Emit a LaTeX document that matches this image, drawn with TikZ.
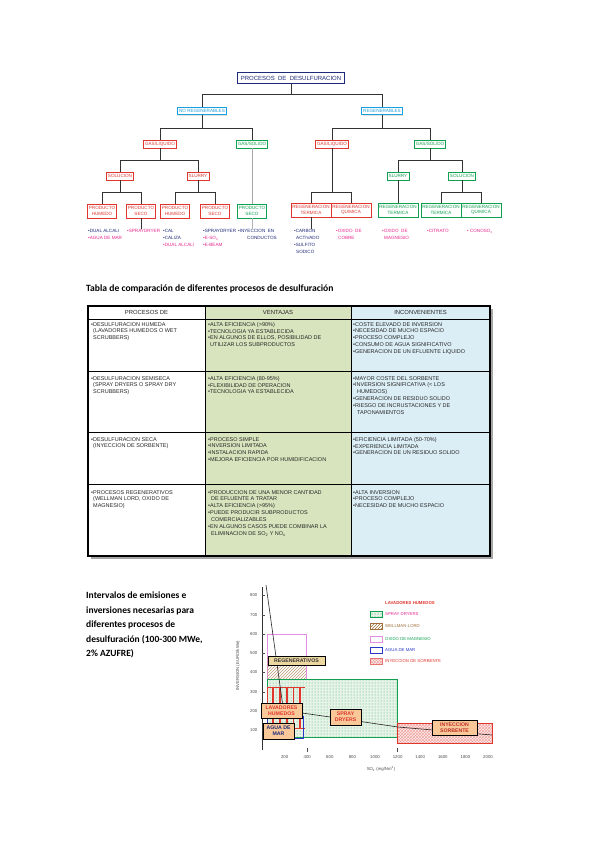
\documentclass[tikz,border=0pt]{standalone}
\usepackage{fontspec}
\setmainfont{Liberation Sans}
\newfontfamily\calfont{Carlito}
\usetikzlibrary{patterns,shadows}
\definecolor{navy}{HTML}{1F2A7A}
\definecolor{bred}{HTML}{E0362E}
\definecolor{bgreen}{HTML}{10A050}
\definecolor{bcyan}{HTML}{1AA0DC}
\definecolor{mag}{HTML}{E6268C}
\definecolor{tgreen}{HTML}{D7E4BD}
\definecolor{tblue}{HTML}{DCEEF5}
\definecolor{lblfill}{HTML}{F9C899}
\definecolor{regfill}{HTML}{EDD7A1}
\definecolor{cbrown}{HTML}{A0703C}
\definecolor{pinkl}{HTML}{E58CE5}
\definecolor{bblue}{HTML}{2838C8}
\definecolor{lgfill}{HTML}{E6F3E6}
\newcommand\ftree{\fontsize{4.6}{5.5}\selectfont}
\newcommand\fbul{\fontsize{4.6}{7}\selectfont}
\newcommand\ftab{\fontsize{5.5}{6.9}\selectfont}
\newcommand\fchart{\fontsize{4.3}{5.2}\selectfont}
\newcommand\flbl{\fontsize{5.2}{6}\selectfont}
\tikzset{
  tbox/.style={draw, fill=white, line width=0.5pt, inner xsep=1.5pt, inner ysep=0.8pt,
    font=\ftree, align=center, minimum height=7.5pt,
    drop shadow={shadow xshift=0.8pt, shadow yshift=-0.8pt, fill=black!22}},
  redbox/.style={tbox, draw=bred, text=bred},
  grnbox/.style={tbox, draw=bgreen, text=bgreen},
  cyanbox/.style={tbox, draw=bcyan, text=bcyan},
  leafbox/.style={minimum height=14pt},
  conn/.style={draw=black!80, line width=0.7pt},
  bul/.style={anchor=north west, font=\fbul, align=left, inner sep=0pt},
  cell/.style={anchor=north west, font=\ftab, align=left, inner sep=0pt, text=black!85},
  hdr/.style={font=\fontsize{5.9}{7}\selectfont, inner sep=0pt, text=black!85},
  lbl/.style={draw=black, line width=0.6pt, fill=lblfill, font=\flbl\bfseries, align=center,
    inner xsep=1pt, inner ysep=0.6pt},
  tick/.style={font=\fchart, text=black!70, inner sep=0pt},
  leg/.style={font=\fchart, anchor=west, inner sep=0pt},
}
\begin{document}
\begin{tikzpicture}[x=1pt,y=-1pt]
\useasboundingbox (0,0) rectangle (599,848);
\fill[white] (0,0) rectangle (599,848);

% ---------------- tree ----------------
\node[draw=navy, line width=0.8pt, text=navy, fill=white, font=\fontsize{6}{7}\selectfont,
  inner xsep=3pt, minimum height=11pt,
  drop shadow={shadow xshift=0.8pt, shadow yshift=-0.8pt, fill=black!25}] (top) at (291,78)
  {PROCESOS\ \ DE\ \ DESULFURACION};
\node[cyanbox] (nr) at (202,111) {NO REGENERABLES};
\node[cyanbox] (rg) at (382,111) {REGENERABLES};
\node[redbox] (gl1) at (160,144) {GAS/LIQUIDO};
\node[grnbox] (gs1) at (252,144) {GAS/SOLIDO};
\node[redbox] (gl2) at (332,144) {GAS/LIQUIDO};
\node[grnbox] (gs2) at (430,144) {GAS/SOLIDO};
\node[redbox] (sol1) at (120,176) {SOLUCION};
\node[redbox] (slu1) at (198,176) {SLURRY};
\node[grnbox] (slu2) at (398,176) {SLURRY};
\node[grnbox] (sol2) at (462,176) {SOLUCION};
\node[redbox, leafbox] (ph1) at (102,211) {PRODUCTO\\HUMEDO};
\node[redbox, leafbox] (ps1) at (141,211) {PRODUCTO\\SECO};
\node[redbox, leafbox] (ph2) at (175,211) {PRODUCTO\\HUMEDO};
\node[redbox, leafbox] (ps2) at (215,211) {PRODUCTO\\SECO};
\node[grnbox, leafbox] (ps3) at (252,211) {PRODUCTO\\SECO};
\node[redbox, leafbox] (rt1) at (311,210) {REGENERACION\\TERMICA};
\node[redbox, leafbox] (rq1) at (351,210) {REGENERACION\\QUIMICA};
\node[grnbox, leafbox] (rt2) at (398,210) {REGENERACION\\TERMICA};
\node[grnbox, leafbox] (rt3) at (441,210) {REGENERACION\\TERMICA};
\node[grnbox, leafbox] (rq2) at (481,210) {REGENERACION\\QUIMICA};

\draw[conn] (top.south) -- ++(0,10) -| (nr.north);
\draw[conn] (top.south) -- ++(0,10) -| (rg.north);
\draw[conn] (nr.south) -- ++(0,13) -| (gl1.north);
\draw[conn] (nr.south) -- ++(0,13) -| (gs1.north);
\draw[conn] (rg.south) -- ++(0,13) -| (gl2.north);
\draw[conn] (rg.south) -- ++(0,13) -| (gs2.north);
\draw[conn] (gl1.south) -- ++(0,12) -| (sol1.north);
\draw[conn] (gl1.south) -- ++(0,12) -| (slu1.north);
\draw[conn, draw=black!35] (gs1.south) -- (ps3.north);
\draw[conn] (gl2.south) -- ++(0,44) -| (rt1.north);
\draw[conn] (gl2.south) -- ++(0,44) -| (rq1.north);
\draw[conn] (gs2.south) -- ++(0,12) -| (slu2.north);
\draw[conn] (gs2.south) -- ++(0,12) -| (sol2.north);
\draw[conn] (sol1.south) -- ++(0,12.5) -| (ph1.north);
\draw[conn] (sol1.south) -- ++(0,12.5) -| (ps1.north);
\draw[conn] (slu1.south) -- ++(0,12.5) -| (ph2.north);
\draw[conn] (slu1.south) -- ++(0,12.5) -| (ps2.north);
\draw[conn] (slu2.south) -- (rt2.north);
\draw[conn] (sol2.south) -- ++(0,12.5) -| (rt3.north);
\draw[conn] (sol2.south) -- ++(0,12.5) -| (rq2.north);

\node[bul] (b1) at (88,229) {\textcolor{navy}{•DUAL ALCALI}\\\textcolor{mag}{•AGUA DE MAR}};
\node[bul, text=mag] (b2) at (127,229) {•SPRAYDRYER};
\node[bul] (b3) at (163,229) {\textcolor{navy}{•CAL}\\\textcolor{navy}{•CALIZA}\\\textcolor{mag}{•DUAL ALCALI}};
\node[bul] (b4) at (203,229) {\textcolor{navy}{•SPRAYDRYER}\\\textcolor{mag}{•E-SO\textsubscript{2}}\\\textcolor{mag}{•E-BEAM}};
\node[bul, text=navy] (b5) at (238,229) {•INYECCION\ \ EN\\\hspace*{9pt}CONDUCTOS};
\node[bul, text=navy] (b6) at (294,229) {•CARBON\\\hspace*{2pt}ACTIVADO\\•SULFITO\\\hspace*{2pt}SODICO};
\node[bul, text=mag] (b7) at (336,229) {•OXIDO\ \ DE\\\hspace*{2pt}COBRE};
\node[bul, text=mag] (b8) at (382,229) {•OXIDO\ \ DE\\\hspace*{2pt}MAGNESIO};
\node[bul, text=mag] (b9) at (427,229) {•CITRATO};
\node[bul, text=mag] (b10) at (467,229) {• CONOSO\textsubscript{x}};
\draw[conn] (ps1.south) -- (ps1.south |- b2.north);
\draw[conn] (rt1.south) -- (rt1.south |- b6.north);
\draw[conn, draw=black!30] (ps3.south) -- (ps3.south |- b5.north);

% ---------------- table ----------------
\node[anchor=west, inner sep=0pt, font=\calfont\bfseries\fontsize{9.6}{11}\selectfont] (ttitle) at (86,289)
  {Tabla de comparación de diferentes procesos de desulfuración};
\fill[black!35] (91,309) rectangle (492.5,558.5);
\fill[white] (88,306) rectangle (205,556);
\fill[tgreen] (205,306) rectangle (351,556);
\fill[tblue] (351,306) rectangle (490,556);
\draw[line width=0.6pt] (88,319) -- (490,319);
\draw[line width=0.9pt] (88,371) -- (490,371);
\draw[line width=0.9pt] (88,432) -- (490,432);
\draw[line width=0.9pt] (88,484) -- (490,484);
\draw[line width=0.6pt] (205,306) -- (205,556);
\draw[line width=0.6pt] (351,306) -- (351,556);
\draw[line width=1.3pt] (88,306) rectangle (490,556);

\node[hdr] (h1) at (146.5,312.5) {PROCESOS DE};
\node[hdr] (h2) at (278,312.5) {VENTAJAS};
\node[hdr] (h3) at (420.5,312.5) {INCONVENIENTES};

\node[cell] (c11) at (91,322) {•DESULFURACION HUMEDA\\\hspace*{2pt}(LAVADORES HUMEDOS O WET\\\hspace*{2pt}SCRUBBERS)};
\node[cell] (c12) at (208,322) {•ALTA EFICIENCIA (>90\%)\\•TECNOLOGIA YA ESTABLECIDA\\•EN ALGUNOS DE ELLOS, POSIBILIDAD DE\\\hspace*{2pt}UTILIZAR LOS SUBPRODUCTOS};
\node[cell] (c13) at (353,322) {•COSTE ELEVADO DE INVERSION\\•NECESIDAD DE MUCHO ESPACIO\\•PROCESO COMPLEJO\\•CONSUMO DE AGUA SIGNIFICATIVO\\•GENERACION DE UN EFLUENTE LIQUIDO};
\node[cell] (c21) at (91,376) {•DESULFURACION SEMISECA\\\hspace*{2pt}(SPRAY DRYERS O SPRAY DRY\\\hspace*{2pt}SCRUBBERS)};
\node[cell] (c22) at (208,376) {•ALTA EFICIENCIA (80-95\%)\\•FLEXIBILIDAD DE OPERACION\\•TECNOLOGIA YA ESTABLECIDA};
\node[cell] (c23) at (353,376) {•MAYOR COSTE DEL SORBENTE\\•INVERSION SIGNIFICATIVA (< LOS\\\hspace*{4pt}HUMEDOS)\\•GENERACION DE RESIDUO SOLIDO\\•RIESGO DE INCRUSTACIONES Y DE\\\hspace*{4pt}TAPONAMIENTOS};
\node[cell] (c31) at (91,437) {•DESULFURACION SECA\\\hspace*{2pt}(INYECCION DE SORBENTE)};
\node[cell] (c32) at (208,437) {•PROCESO SIMPLE\\•INVERSION LIMITADA\\•INSTALACION RAPIDA\\•MEJORA EFICIENCIA POR HUMIDIFICACION};
\node[cell] (c33) at (353,437) {•EFICIENCIA LIMITADA (50-70\%)\\•EXPERIENCIA LIMITADA\\•GENERACION DE UN RESIDUO SOLIDO};
\node[cell] (c41) at (91,490) {•PROCESOS REGENERATIVOS\\\hspace*{2pt}(WELLMAN LORD, OXIDO DE\\\hspace*{2pt}MAGNESIO)};
\node[cell] (c42) at (208,490) {•PRODUCCION DE UNA MENOR CANTIDAD\\\hspace*{3pt}DE EFLUENTE A TRATAR\\•ALTA EFICIENCIA (>95\%)\\•PUEDE PRODUCIR SUBPRODUCTOS\\\hspace*{3pt}COMERCIALIZABLES\\•EN ALGUNOS CASOS PUEDE COMBINAR LA\\\hspace*{3pt}ELIMINACION DE SO\textsubscript{2} Y NO\textsubscript{x}};
\node[cell] (c43) at (353,490) {•ALTA INVERSION\\•PROCESO COMPLEJO\\•NECESIDAD DE MUCHO ESPACIO};

% ---------------- chart ----------------
\node[anchor=north west, align=left, inner sep=0pt,
  font=\calfont\bfseries\fontsize{9.5}{14.5}\selectfont] (ctitle) at (86,592)
  {Intervalos de emisiones e\\inversiones necesarias para\\diferentes procesos de\\desulfuración (100-300 MWe,\\2\% AZUFRE)};

% regions
\draw[pinkl, line width=0.6pt] (267,634) rectangle (306,690);
\fill[pattern=north east lines, pattern color=cbrown!70] (267,657) rectangle (306,690);
\fill[lgfill] (267,679) rectangle (397.6,737);
\draw[bgreen, line width=0.6pt, pattern=dots, pattern color=bgreen!80] (267,679) rectangle (397.6,737);
\draw[bred, line width=0.7pt] (267,687) -- (305,687);
\draw[bred, line width=0.7pt] (267,728.5) -- (305,728.5);
\draw[bred, line width=0.7pt] (267.5,687) -- (267.5,728.5);
\foreach \xx in {273,280,287,293.5,300}{\draw[bred, line width=1.3pt] (\xx,687) -- (\xx,728.5);}
\draw[bblue, line width=0.5pt] (267,716) rectangle (303,738);
\fill[bred!8] (397.6,723) rectangle (492,743);
\draw[bred, line width=0.5pt, pattern=crosshatch, pattern color=bred!45] (397.6,723) rectangle (492,743);

% axis
\draw[black!80, line width=0.6pt] (262,587) -- (262,750);
\foreach \v in {100,200,...,800}{
  \pgfmathsetmacro\py{749.5-0.1925*\v}
  \draw[black!70, line width=0.4pt] (262,\py) -- (264.5,\py);
  \node[tick, anchor=east] (yl\v) at (257.5,\py) {\v};
}
\foreach \v in {200,400,...,2000}{
  \pgfmathsetmacro\px{262+0.113*\v}
  \node[tick] (xl\v) at (\px,757.5) {\v};
}
\draw[black!70, line width=0.5pt] (307.2,748) -- (307.2,752);
\draw[black!70, line width=0.5pt] (397.6,748) -- (397.6,752);
\node[tick] (xtitle) at (381,768.5) {SO\textsubscript{2} (mg/Nm\textsuperscript{3})};
\node[tick, rotate=90] (ytitle) at (238,666) {INVERSION (EURO/kWe)};

% curve
\draw[black!85, line width=0.6pt, line join=round] (266,585) -- (283,707) -- (302,713) -- (330,717)
  -- (398,727) -- (433,730) -- (492,735);

% labels
\node[lbl, fill=regfill, text=black!80, minimum width=57pt, minimum height=9pt] (reg) at (296.5,660.5) {REGENERATIVOS};
\node[lbl, text=bred, minimum width=41pt, minimum height=15pt] (lav) at (281.5,710.5) {LAVADORES\\HUMEDOS};
\node[lbl, text=navy, minimum width=31pt, minimum height=16pt] (agua) at (278.5,731) {AGUA DE\\MAR};
\node[lbl, text=bred, minimum width=31pt, minimum height=16pt] (spray) at (345.5,717) {SPRAY\\DRYERS};
\node[lbl, text=bred!85!black, minimum width=45pt, minimum height=15pt] (iny) at (454.5,727.5) {INYECCION\\SORBENTE};

% legend
\node[leg, text=bred, font=\fchart\bfseries] (lt) at (385,603) {LAVADORES HUMEDOS};
\fill[lgfill] (370,611) rectangle (382,617.5);
\draw[bgreen, line width=0.5pt, pattern=dots, pattern color=bgreen] (370,611) rectangle (382,617.5);
\node[leg, text=mag] (l1) at (385,614) {SPRAY DRYERS};
\draw[cbrown, line width=0.5pt, pattern=north east lines, pattern color=cbrown] (370,623) rectangle (382,629.5);
\node[leg, text=cbrown] (l2) at (385,626) {WELLMAN-LORD};
\draw[pinkl, line width=0.5pt] (370,636) rectangle (382,642.5);
\node[leg, text=bgreen] (l3) at (385,639) {OXIDO DE MAGNESIO};
\draw[bblue, line width=0.5pt] (370,647) rectangle (382,653.5);
\node[leg, text=bblue] (l4) at (385,650) {AGUA DE MAR};
\fill[bred!8] (370,658) rectangle (382,664.5);
\draw[bred!70, line width=0.5pt, pattern=crosshatch, pattern color=bred!45] (370,658) rectangle (382,664.5);
\node[leg, text=bred] (l5) at (385,661) {INYECCION DE SORBENTE};
\end{tikzpicture}
\end{document}
